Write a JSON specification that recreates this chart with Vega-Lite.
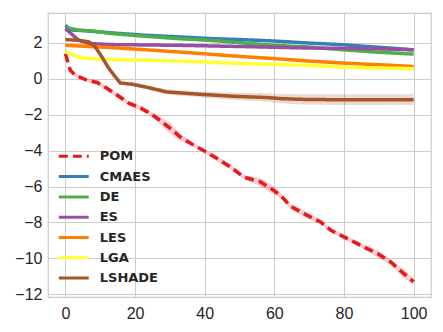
{
  "$schema": "https://vega.github.io/schema/vega-lite/v6.json",
  "width": 383,
  "height": 284,
  "autosize": "none",
  "padding": {"left": 48, "top": 13, "right": 12, "bottom": 35},
  "background": "white",
  "config": {
    "view": {"stroke": "#cccccc", "strokeWidth": 1.25},
    "axis": {
      "domain": false,
      "ticks": false,
      "grid": true,
      "gridColor": "#cccccc",
      "gridWidth": 1,
      "labelFont": "Liberation Sans",
      "labelFontSize": 16,
      "labelColor": "#262626"
    }
  },
  "data": {
    "values": [
      {"s": "POM", "x": 0, "y": 1.41, "h": 0.05},
      {"s": "POM", "x": 1.4, "y": 0.48, "h": 0.08},
      {"s": "POM", "x": 2.9, "y": 0.2, "h": 0.1},
      {"s": "POM", "x": 6.2, "y": -0.08, "h": 0.1},
      {"s": "POM", "x": 9.1, "y": -0.2, "h": 0.12},
      {"s": "POM", "x": 12, "y": -0.54, "h": 0.12},
      {"s": "POM", "x": 14.9, "y": -0.91, "h": 0.15},
      {"s": "POM", "x": 18.2, "y": -1.35, "h": 0.12},
      {"s": "POM", "x": 21.6, "y": -1.62, "h": 0.15},
      {"s": "POM", "x": 24.4, "y": -1.93, "h": 0.12},
      {"s": "POM", "x": 27.2, "y": -2.31, "h": 0.22},
      {"s": "POM", "x": 30.2, "y": -2.77, "h": 0.3},
      {"s": "POM", "x": 33, "y": -3.24, "h": 0.2},
      {"s": "POM", "x": 36.9, "y": -3.7, "h": 0.12},
      {"s": "POM", "x": 40.2, "y": -4.05, "h": 0.12},
      {"s": "POM", "x": 43.6, "y": -4.44, "h": 0.15},
      {"s": "POM", "x": 47.4, "y": -4.9, "h": 0.15},
      {"s": "POM", "x": 51.2, "y": -5.47, "h": 0.12},
      {"s": "POM", "x": 56, "y": -5.74, "h": 0.22},
      {"s": "POM", "x": 59, "y": -6.1, "h": 0.25},
      {"s": "POM", "x": 61.8, "y": -6.49, "h": 0.15},
      {"s": "POM", "x": 64.7, "y": -7.1, "h": 0.15},
      {"s": "POM", "x": 69.4, "y": -7.6, "h": 0.2},
      {"s": "POM", "x": 73.3, "y": -7.97, "h": 0.12},
      {"s": "POM", "x": 76.2, "y": -8.43, "h": 0.12},
      {"s": "POM", "x": 81, "y": -8.9, "h": 0.15},
      {"s": "POM", "x": 84.8, "y": -9.27, "h": 0.12},
      {"s": "POM", "x": 89.6, "y": -9.73, "h": 0.2},
      {"s": "POM", "x": 93.4, "y": -10.2, "h": 0.15},
      {"s": "POM", "x": 97.2, "y": -10.85, "h": 0.25},
      {"s": "POM", "x": 100, "y": -11.3, "h": 0.15},

      {"s": "CMAES", "x": 0, "y": 2.98, "h": 0.05},
      {"s": "CMAES", "x": 1, "y": 2.8, "h": 0.05},
      {"s": "CMAES", "x": 2, "y": 2.72, "h": 0.05},
      {"s": "CMAES", "x": 5, "y": 2.69, "h": 0.05},
      {"s": "CMAES", "x": 13.4, "y": 2.56, "h": 0.05},
      {"s": "CMAES", "x": 23, "y": 2.43, "h": 0.05},
      {"s": "CMAES", "x": 32.6, "y": 2.34, "h": 0.05},
      {"s": "CMAES", "x": 42.2, "y": 2.24, "h": 0.05},
      {"s": "CMAES", "x": 50.5, "y": 2.19, "h": 0.05},
      {"s": "CMAES", "x": 59.9, "y": 2.11, "h": 0.05},
      {"s": "CMAES", "x": 69.5, "y": 2.0, "h": 0.05},
      {"s": "CMAES", "x": 79, "y": 1.91, "h": 0.05},
      {"s": "CMAES", "x": 88.6, "y": 1.78, "h": 0.05},
      {"s": "CMAES", "x": 100, "y": 1.62, "h": 0.05},

      {"s": "DE", "x": 0, "y": 2.86, "h": 0.04},
      {"s": "DE", "x": 3.8, "y": 2.72, "h": 0.04},
      {"s": "DE", "x": 8.6, "y": 2.65, "h": 0.04},
      {"s": "DE", "x": 13.4, "y": 2.52, "h": 0.04},
      {"s": "DE", "x": 23, "y": 2.37, "h": 0.04},
      {"s": "DE", "x": 32.6, "y": 2.24, "h": 0.04},
      {"s": "DE", "x": 42.2, "y": 2.14, "h": 0.04},
      {"s": "DE", "x": 51, "y": 2.0, "h": 0.04},
      {"s": "DE", "x": 59.9, "y": 1.87, "h": 0.04},
      {"s": "DE", "x": 69.5, "y": 1.78, "h": 0.04},
      {"s": "DE", "x": 79, "y": 1.63, "h": 0.04},
      {"s": "DE", "x": 88.6, "y": 1.5, "h": 0.04},
      {"s": "DE", "x": 100, "y": 1.38, "h": 0.04},

      {"s": "ES", "x": 0, "y": 2.8, "h": 0.03},
      {"s": "ES", "x": 1.9, "y": 2.48, "h": 0.03},
      {"s": "ES", "x": 3.8, "y": 2.15, "h": 0.03},
      {"s": "ES", "x": 6.7, "y": 1.97, "h": 0.03},
      {"s": "ES", "x": 13.4, "y": 1.91, "h": 0.03},
      {"s": "ES", "x": 32.6, "y": 1.87, "h": 0.03},
      {"s": "ES", "x": 51, "y": 1.8, "h": 0.03},
      {"s": "ES", "x": 69.5, "y": 1.72, "h": 0.03},
      {"s": "ES", "x": 88.6, "y": 1.68, "h": 0.03},
      {"s": "ES", "x": 100, "y": 1.62, "h": 0.03},

      {"s": "LES", "x": 0, "y": 1.87, "h": 0.03},
      {"s": "LES", "x": 13.4, "y": 1.74, "h": 0.03},
      {"s": "LES", "x": 32.6, "y": 1.5, "h": 0.03},
      {"s": "LES", "x": 51, "y": 1.24, "h": 0.03},
      {"s": "LES", "x": 59.9, "y": 1.13, "h": 0.03},
      {"s": "LES", "x": 69.5, "y": 1.0, "h": 0.03},
      {"s": "LES", "x": 79, "y": 0.89, "h": 0.03},
      {"s": "LES", "x": 88.6, "y": 0.8, "h": 0.03},
      {"s": "LES", "x": 100, "y": 0.69, "h": 0.03},

      {"s": "LGA", "x": 0, "y": 1.5, "h": 0.04},
      {"s": "LGA", "x": 3.8, "y": 1.22, "h": 0.04},
      {"s": "LGA", "x": 6.7, "y": 1.13, "h": 0.04},
      {"s": "LGA", "x": 13.4, "y": 1.08, "h": 0.04},
      {"s": "LGA", "x": 32.6, "y": 1.0, "h": 0.04},
      {"s": "LGA", "x": 51, "y": 0.85, "h": 0.04},
      {"s": "LGA", "x": 69.5, "y": 0.76, "h": 0.04},
      {"s": "LGA", "x": 79, "y": 0.66, "h": 0.04},
      {"s": "LGA", "x": 88.6, "y": 0.61, "h": 0.04},
      {"s": "LGA", "x": 100, "y": 0.57, "h": 0.05},

      {"s": "LSHADE", "x": 0, "y": 2.19, "h": 0.04},
      {"s": "LSHADE", "x": 4, "y": 2.15, "h": 0.04},
      {"s": "LSHADE", "x": 6.7, "y": 2.06, "h": 0.05},
      {"s": "LSHADE", "x": 8.3, "y": 1.85, "h": 0.05},
      {"s": "LSHADE", "x": 10.5, "y": 1.22, "h": 0.06},
      {"s": "LSHADE", "x": 12.4, "y": 0.6, "h": 0.06},
      {"s": "LSHADE", "x": 14.4, "y": 0.1, "h": 0.07},
      {"s": "LSHADE", "x": 15.8, "y": -0.23, "h": 0.08},
      {"s": "LSHADE", "x": 19.2, "y": -0.3, "h": 0.1},
      {"s": "LSHADE", "x": 23, "y": -0.45, "h": 0.12},
      {"s": "LSHADE", "x": 29.2, "y": -0.73, "h": 0.14},
      {"s": "LSHADE", "x": 38.8, "y": -0.86, "h": 0.16},
      {"s": "LSHADE", "x": 48.4, "y": -0.97, "h": 0.2},
      {"s": "LSHADE", "x": 57.9, "y": -1.04, "h": 0.24},
      {"s": "LSHADE", "x": 62, "y": -1.1, "h": 0.26},
      {"s": "LSHADE", "x": 67.5, "y": -1.14, "h": 0.28},
      {"s": "LSHADE", "x": 77, "y": -1.16, "h": 0.3},
      {"s": "LSHADE", "x": 86.6, "y": -1.16, "h": 0.3},
      {"s": "LSHADE", "x": 100, "y": -1.16, "h": 0.3}
    ]
  },
  "transform": [
    {"calculate": "datum.y - datum.h", "as": "lo"},
    {"calculate": "datum.y + datum.h", "as": "hi"}
  ],
  "resolve": {"scale": {"y": "independent"}},
  "layer": [
    {
      "layer": [
        {
          "mark": {"type": "area", "fillOpacity": 0.22},
          "encoding": {
            "x": {
              "field": "x",
              "type": "quantitative",
              "title": null,
              "scale": {"domain": [-5, 105], "nice": false, "zero": false},
              "axis": {"values": [0, 20, 40, 60, 80, 100], "labelPadding": 8}
            },
            "y": {
              "field": "lo",
              "type": "quantitative",
              "title": null,
              "scale": {"domain": [-12.15, 3.67], "nice": false, "zero": false},
              "axis": {"values": [-12, -10, -8, -6, -4, -2, 0, 2], "labelPadding": 6}
            },
            "y2": {"field": "hi"},
            "fill": {"field": "s", "type": "nominal", "legend": null,
              "scale": {"domain": ["POM", "CMAES", "DE", "ES", "LES", "LGA", "LSHADE"],
                "range": ["#e41a1c", "#377eb8", "#4daf4a", "#984ea3", "#ff7f00", "#ffff33", "#a65628"]}},
            "detail": {"field": "s"}
          }
        },
        {
          "mark": {"type": "line", "strokeWidth": 3.5},
          "encoding": {
            "x": {"field": "x", "type": "quantitative"},
            "y": {"field": "y", "type": "quantitative"},
            "stroke": {
              "field": "s", "type": "nominal", "legend": null,
              "scale": {"domain": ["POM", "CMAES", "DE", "ES", "LES", "LGA", "LSHADE"],
                "range": ["#e41a1c", "#377eb8", "#4daf4a", "#984ea3", "#ff7f00", "#ffff33", "#a65628"]}
            },
            "strokeDash": {
              "field": "s", "type": "nominal", "legend": null,
              "scale": {"domain": ["POM", "CMAES", "DE", "ES", "LES", "LGA", "LSHADE"],
                "range": [[9, 5], [1, 0], [1, 0], [1, 0], [1, 0], [1, 0], [1, 0]]}
            }
          }
        }
      ]
    },
    {
      "transform": [{"aggregate": [{"op": "count", "as": "n"}], "groupby": ["s"]}],
      "mark": {"type": "rule", "strokeWidth": 3},
      "encoding": {
        "x": {"datum": -1.9},
        "x2": {"datum": 6.7},
        "y": {
          "field": "s", "type": "ordinal", "axis": null,
          "scale": {"type": "point", "domain": ["POM", "CMAES", "DE", "ES", "LES", "LGA", "LSHADE"], "range": [143.3, 265.1], "padding": 0}
        },
        "stroke": {"field": "s", "type": "nominal", "legend": null},
        "strokeDash": {"field": "s", "type": "nominal", "legend": null}
      }
    },
    {
      "transform": [{"aggregate": [{"op": "count", "as": "n"}], "groupby": ["s"]}],
      "mark": {"type": "text", "align": "left", "baseline": "middle", "font": "DejaVu Sans", "fontWeight": "bold", "fontSize": 13, "color": "#262626"},
      "encoding": {
        "x": {"datum": 9.86},
        "y": {
          "field": "s", "type": "ordinal", "axis": null,
          "scale": {"type": "point", "domain": ["POM", "CMAES", "DE", "ES", "LES", "LGA", "LSHADE"], "range": [143.3, 265.1], "padding": 0}
        },
        "text": {"field": "s", "type": "nominal"}
      }
    }
  ]
}
